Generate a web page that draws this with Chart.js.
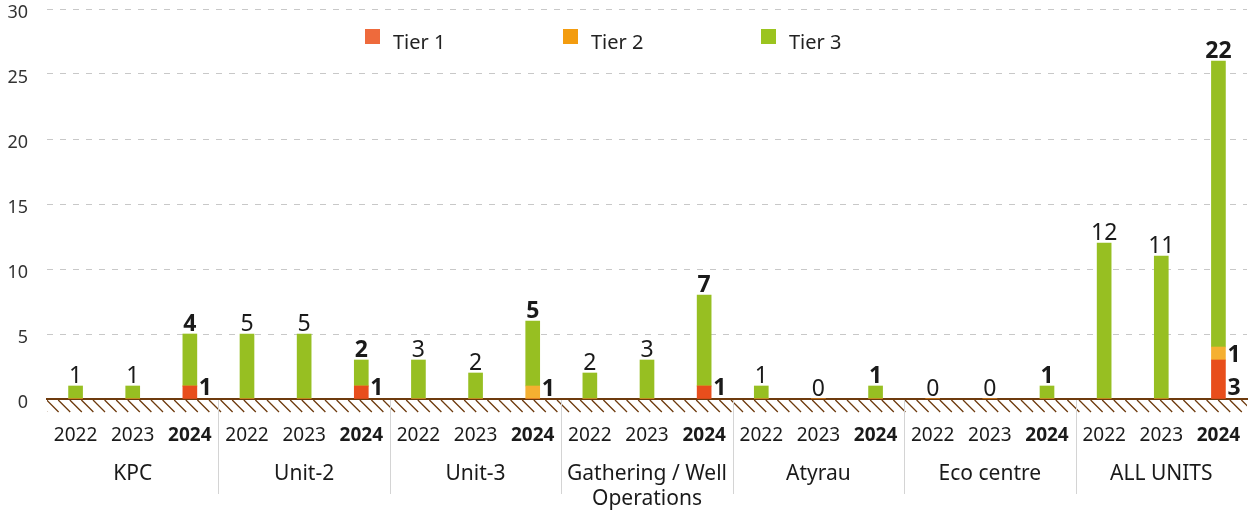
<!DOCTYPE html>
<html>
<head>
<meta charset="utf-8">
<script src="https://cdn.jsdelivr.net/npm/chart.js@4.4.1/dist/chart.umd.min.js"></script>
<style>
  body { margin: 0; background: #fff; }
  canvas { display: block; }
</style>
</head>
<body>
<canvas id="myChart" width="1252" height="513"></canvas>
<script>
// chart data
const groups = ["KPC", "Unit-2", "Unit-3", ["Gathering / Well", "Operations"], "Atyrau", "Eco centre", "ALL UNITS"];
const years = ["2022", "2023", "2024"];
const seriesNames = ["Tier 1", "Tier 2", "Tier 3"];
const tier1 = [0, 0, 1,  0, 0, 1,  0, 0, 0,  0, 0, 1,  0, 0, 0,  0, 0, 0,  0, 0, 3];
const tier2 = [0, 0, 0,  0, 0, 0,  0, 0, 1,  0, 0, 0,  0, 0, 0,  0, 0, 0,  0, 0, 1];
const tier3 = [1, 1, 4,  5, 5, 2,  3, 2, 5,  2, 3, 7,  1, 0, 1,  0, 0, 1,  12, 11, 22];
const yTicks = [0, 5, 10, 15, 20, 25, 30];

const barColors = ["#e84e1c", "#f5b031", "#97bf22"];
const legendColors = ["#ee6a3c", "#f39c0f", "#9bc41f"];
const FONT = "'Noto Sans', sans-serif";
const TEXT = "#1a1a1a";
const BROWN = "#6e3b0e";

// one category per group/year pair
const labels = [];
groups.forEach(() => years.forEach(y => labels.push(y)));

const isBold = i => i % 3 === 2;

// value labels over / beside the bars
const valueLabels = {
  id: "valueLabels",
  afterDatasetsDraw(chart) {
    const ctx = chart.ctx;
    ctx.save();
    ctx.fillStyle = TEXT;
    ctx.textBaseline = "alphabetic";

    // totals for tier 3 above the stack
    ctx.textAlign = "center";
    chart.getDatasetMeta(2).data.forEach((bar, i) => {
      ctx.font = (isBold(i) ? "bold " : "") + "23px " + FONT;
      ctx.fillText(tier3[i], bar.x, bar.y - 3);
    });

    // tier 1 and tier 2 to the right of the bar
    ctx.textAlign = "left";
    ctx.font = "bold 23px " + FONT;
    chart.getDatasetMeta(0).data.forEach((bar, i) => {
      if (!tier1[i]) return;
      ctx.fillText(tier1[i], bar.x + bar.width / 2 + 2, bar.base - 4);
    });
    chart.getDatasetMeta(1).data.forEach((bar, i) => {
      if (!tier2[i]) return;
      const mid = (bar.y + bar.base) / 2;
      ctx.fillText(tier2[i], bar.x + bar.width / 2 + 2, Math.min(mid + 8, chart.chartArea.bottom - 3));
    });
    ctx.restore();
  }
};

// hatched ground line, group separators and the legend
const decorations = {
  id: "decorations",
  afterDraw(chart) {
    const ctx = chart.ctx;
    const area = chart.chartArea;
    const x = chart.scales.x;
    ctx.save();

    // hatch below the zero line
    ctx.beginPath();
    ctx.rect(area.left, area.bottom, area.right - area.left, 14);
    ctx.clip();
    ctx.strokeStyle = BROWN;
    ctx.lineWidth = 1.3;
    ctx.beginPath();
    for (let hx = area.left - 12; hx < area.right; hx += 11.6) {
      ctx.moveTo(hx, area.bottom + 1);
      ctx.lineTo(hx + 12, area.bottom + 13);
    }
    ctx.stroke();
    ctx.restore();

    // separators between groups
    ctx.save();
    ctx.strokeStyle = "#d4d4d4";
    ctx.lineWidth = 1;
    for (let g = 1; g < groups.length; g++) {
      const sx = Math.round((x.getPixelForValue(g * 3 - 1) + x.getPixelForValue(g * 3)) / 2) + 0.5;
      ctx.beginPath();
      ctx.moveTo(sx, area.bottom + 1);
      ctx.lineTo(sx, 494);
      ctx.stroke();
    }

    // legend
    ctx.font = "20px " + FONT;
    ctx.textAlign = "left";
    ctx.textBaseline = "alphabetic";
    seriesNames.forEach((name, i) => {
      const lx = 365 + i * 198;
      ctx.fillStyle = legendColors[i];
      ctx.fillRect(lx, 29, 15, 15);
      ctx.fillStyle = "#222";
      ctx.fillText(name, lx + 28, 49);
    });
    ctx.restore();
  }
};

const noSidePad = s => { s.paddingLeft = 0; s.paddingRight = 0; };

const ctx = document.getElementById("myChart").getContext("2d");

const myChart = new Chart(ctx, {
  type: "bar",
  data: {
    labels,
    datasets: [
      { label: seriesNames[0], data: tier1, backgroundColor: barColors[0] },
      { label: seriesNames[1], data: tier2, backgroundColor: barColors[1] },
      { label: seriesNames[2], data: tier3, backgroundColor: barColors[2] }
    ]
  },
  options: {
    responsive: false,
    devicePixelRatio: 1,
    animation: false,
    barThickness: 14,
    layout: { padding: { top: 9, right: 5, left: 0, bottom: 0 } },
    plugins: {
      legend: { display: false },
      tooltip: { enabled: false }
    },
    scales: {
      x: {
        stacked: true,
        grid: { display: false, drawTicks: false },
        border: { display: true, color: BROWN, width: 2 },
        ticks: {
          padding: 25,
          color: TEXT,
          autoSkip: false,
          maxRotation: 0,
          font: c => ({ family: FONT, size: 19, weight: isBold(c.index) ? "bold" : "normal" })
        },
        afterFit: s => { s.height = 50; noSidePad(s); }
      },
      x2: {
        type: "category",
        position: "bottom",
        labels: groups,
        offset: true,
        grid: { display: false, drawTicks: false },
        border: { display: false },
        ticks: {
          padding: 12,
          color: TEXT,
          autoSkip: false,
          maxRotation: 0,
          font: { family: FONT, size: 21, lineHeight: 1.2 }
        },
        afterFit: s => { s.height = 64; noSidePad(s); }
      },
      y: {
        stacked: true,
        min: 0,
        max: 30,
        afterBuildTicks: s => { s.ticks = yTicks.map(v => ({ value: v })); },
        grid: {
          drawTicks: false,
          color: c => c.tick && c.tick.value === 0 ? "rgba(0,0,0,0)" : "#c8c8c8",
          lineWidth: 1
        },
        border: { display: false, dash: [6, 7] },
        ticks: {
          padding: 19,
          labelOffset: 4,
          color: "#333",
          font: { family: FONT, size: 18 }
        },
        afterFit: s => { s.width = 47; s.paddingTop = 0; s.paddingBottom = 0; }
      }
    }
  },
  plugins: [valueLabels, decorations]
});
</script>
</body>
</html>
